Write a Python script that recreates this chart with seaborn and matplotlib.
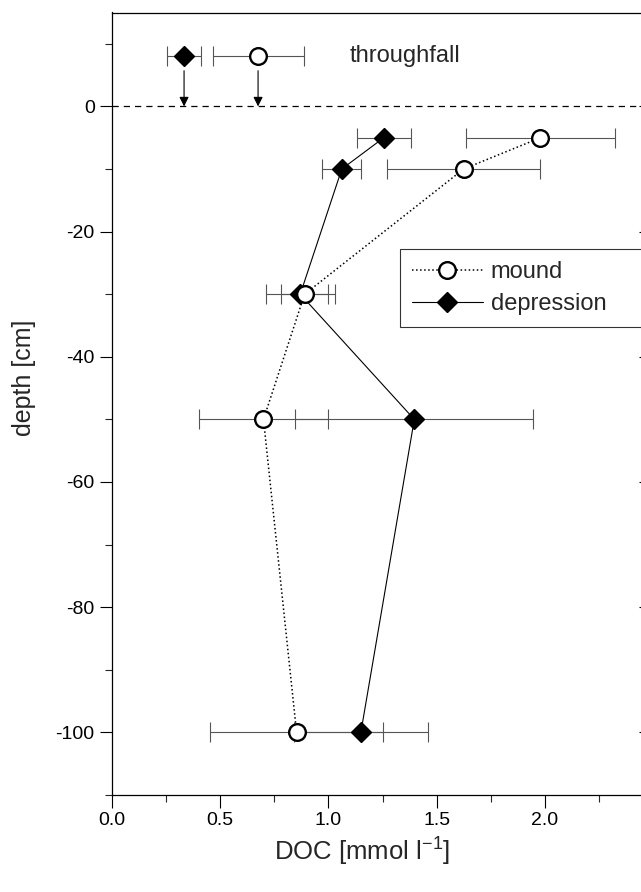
import matplotlib
matplotlib.use("Agg")
import matplotlib.pyplot as plt
import seaborn as sns
import pandas as pd
from matplotlib.ticker import MultipleLocator

# ---- data ----
depth = [-5, -10, -30, -50, -100]
mound_doc = [1.98, 1.625, 0.89, 0.70, 0.853]
mound_err = [0.345, 0.355, 0.11, 0.30, 0.40]
depr_doc = [1.256, 1.062, 0.87, 1.397, 1.15]
depr_err = [0.125, 0.09, 0.16, 0.55, 0.31]

tf_depth = 8
tf_mound_doc = 0.675
tf_mound_err = 0.21
tf_depr_doc = 0.333
tf_depr_err = 0.078

x_ticks = [0.0, 0.5, 1.0, 1.5, 2.0]
y_ticks = [0, -20, -40, -60, -80, -100]

df_m = pd.DataFrame({"doc": mound_doc, "depth": depth})
df_d = pd.DataFrame({"doc": depr_doc, "depth": depth})

sns.set_theme(style="ticks")
plt.rcParams["font.family"] = ["Liberation Sans", "DejaVu Sans"]

fig = plt.figure(figsize=(6.41, 8.92), dpi=100)
ax = fig.add_axes([112 / 641, (892 - 795) / 892, 541 / 641, (795 - 12.5) / 892])

# error bars
ebkw = dict(fmt="none", ecolor="#555555", elinewidth=0.8, capsize=7, capthick=0.8, zorder=1)
ax.errorbar(mound_doc, depth, xerr=mound_err, **ebkw)
ax.errorbar(depr_doc, depth, xerr=depr_err, **ebkw)
ax.errorbar([tf_mound_doc], [tf_depth], xerr=[tf_mound_err], **ebkw)
ax.errorbar([tf_depr_doc], [tf_depth], xerr=[tf_depr_err], **ebkw)

# lines
sns.lineplot(data=df_m, x="doc", y="depth", sort=False, ax=ax, color="black",
             linestyle=":", linewidth=1.1, zorder=2, estimator=None)
sns.lineplot(data=df_d, x="doc", y="depth", sort=False, ax=ax, color="black",
             linestyle="-", linewidth=0.8, zorder=2, estimator=None)

# markers
circ = dict(marker="o", markersize=12, markerfacecolor="white", markeredgecolor="black",
            markeredgewidth=1.7)
diam = dict(marker="D", markersize=10.5, markerfacecolor="black", markeredgecolor="black")
ax.plot(mound_doc + [tf_mound_doc], depth + [tf_depth], linestyle="none", zorder=4, **circ)
ax.plot(depr_doc + [tf_depr_doc], depth + [tf_depth], linestyle="none", zorder=3, **diam)

# legend proxies
ax.plot([], [], linestyle=":", color="black", linewidth=1.1, label="mound", **circ)
ax.plot([], [], linestyle="-", color="black", linewidth=0.8, label="depression", **diam)

# zero line
ax.axhline(0, color="black", linestyle=(0, (5, 4)), linewidth=0.9, zorder=1)

# arrows
for xv in [tf_depr_doc, tf_mound_doc]:
    ax.annotate("", xy=(xv, 0), xytext=(xv, tf_depth - 2.3),
                arrowprops=dict(arrowstyle="-|>", color="black", lw=0.8,
                                mutation_scale=14, shrinkA=0, shrinkB=0))

ax.text(1.10, tf_depth, "throughfall", fontsize=17, va="center", ha="left")

ax.set_xlim(0, 2.5)
ax.set_ylim(-110, 15)
ax.set_xticks(x_ticks)
ax.set_xticklabels([f"{v:.1f}" for v in x_ticks])
ax.set_yticks(y_ticks)
ax.set_yticklabels([str(v) for v in y_ticks])
ax.xaxis.set_minor_locator(MultipleLocator(0.25))
ax.yaxis.set_minor_locator(MultipleLocator(10))
ax.tick_params(axis="both", which="major", direction="out", length=9, width=0.8,
               labelsize=14, colors="black")
ax.tick_params(axis="both", which="minor", direction="out", length=5, width=0.8)
ax.tick_params(axis="y", which="major", right=True, labelright=False)
for sp in ax.spines.values():
    sp.set_linewidth(0.9)
    sp.set_color("black")
for t in ax.yaxis.get_major_ticks():
    t.tick2line.set_marker(matplotlib.lines.TICKLEFT)
    t.tick2line.set_markersize(10)

ax.set_xlabel("DOC [mmol l$^{\\mathregular{-1}}$]", fontsize=18.5)
ax.set_ylabel("depth [cm]", fontsize=18)
ax.xaxis.set_label_coords((362 - 112) / 541, (795 - 834) / 782.5)
ax.yaxis.set_label_coords((36 - 112) / 541, (795 - 378) / 782.5)

leg = ax.legend(loc="upper left", mode="expand",
                bbox_to_anchor=((400 - 112) / 541, (795 - 333) / 782.5, 0.5, (333 - 249) / 782.5),
                fontsize=17, frameon=True, fancybox=False, edgecolor="black",
                handlelength=3.0, borderpad=0.5, handletextpad=0.35, labelspacing=0.45,
                borderaxespad=0)
leg.get_frame().set_linewidth(0.8)

fig.savefig("out.png", dpi=100)
